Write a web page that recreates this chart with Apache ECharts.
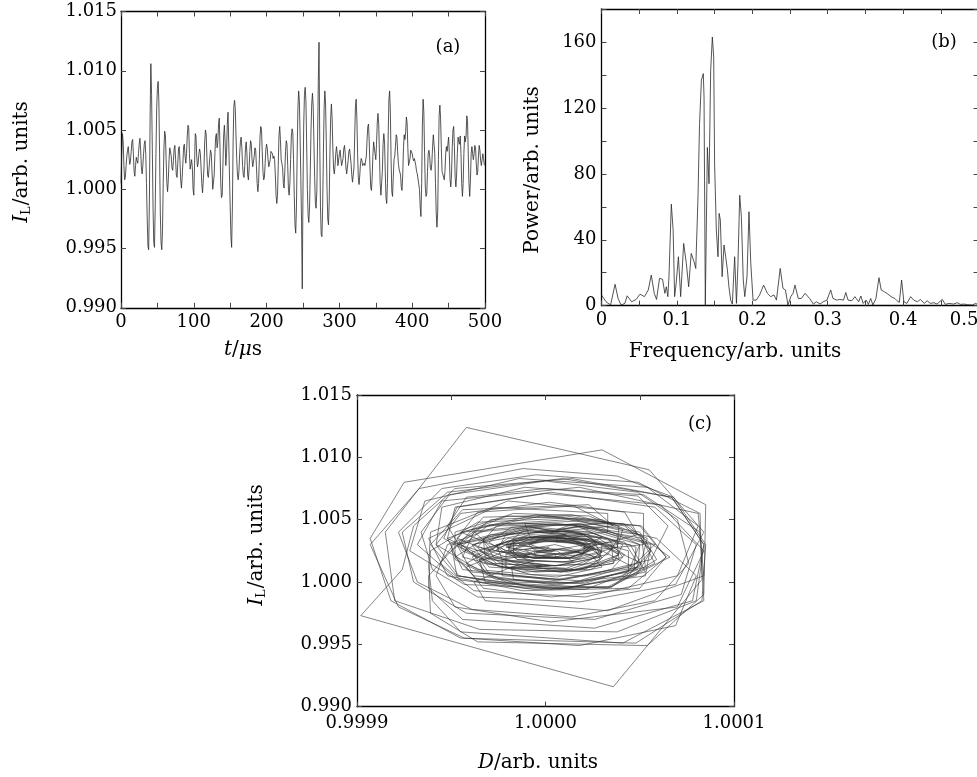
<!DOCTYPE html>
<html><head><meta charset="utf-8">
<script src="https://cdn.jsdelivr.net/npm/echarts@6/dist/echarts.min.js"></script>
<style>html,body{margin:0;padding:0;background:#fff}#c{width:977px;height:777px}</style>
</head><body><div id="c"></div>
<script>
// ---- panel (a) & (c): laser intensity I_L sampled every 1 us (t = 0..500) ----
const intensityIL = [
1.0005,1.0030,1.0047,1.0040,1.0020,1.0008,1.0010,1.0020,1.0028,1.0033,
1.0036,1.0028,1.0021,1.0024,1.0032,1.0040,1.0042,1.0030,1.0015,1.0011,
1.0020,1.0027,1.0024,1.0022,1.0030,1.0038,1.0043,1.0033,1.0019,1.0013,
1.0020,1.0030,1.0038,1.0041,1.0030,1.0005,0.9975,0.9952,0.9949,0.9990,
1.0062,1.0106,1.0080,1.0035,0.9985,0.9955,0.9951,0.9985,1.0030,1.0068,
1.0085,1.0091,1.0075,1.0030,0.9980,0.9955,0.9949,0.9965,1.0005,1.0035,
1.0049,1.0045,1.0025,1.0005,0.9998,1.0008,1.0025,1.0035,1.0036,1.0028,
1.0018,1.0016,1.0024,1.0034,1.0037,1.0025,1.0012,1.0010,1.0022,1.0034,
1.0036,1.0024,1.0008,1.0001,1.0010,1.0022,1.0036,1.0038,1.0028,1.0022,
1.0030,1.0045,1.0054,1.0052,1.0030,1.0017,1.0016,1.0025,1.0018,1.0000,
0.9995,1.0020,1.0047,1.0045,1.0028,1.0019,1.0022,1.0030,1.0034,1.0030,
1.0018,1.0005,0.9997,0.9996,1.0018,1.0040,1.0050,1.0046,1.0028,1.0012,
1.0010,1.0018,1.0027,1.0033,1.0030,1.0015,1.0000,0.9999,1.0012,1.0030,
1.0044,1.0047,1.0035,1.0040,1.0055,1.0060,1.0035,1.0005,0.9993,0.9995,
1.0020,1.0045,1.0054,1.0040,1.0020,1.0030,1.0055,1.0065,1.0040,1.0012,
0.9985,0.9960,0.9951,0.9985,1.0040,1.0070,1.0075,1.0068,1.0045,1.0025,
1.0012,1.0008,1.0015,1.0030,1.0040,1.0044,1.0035,1.0020,1.0012,1.0010,
1.0020,1.0035,1.0040,1.0030,1.0012,1.0008,1.0018,1.0032,1.0041,1.0038,
1.0025,1.0019,1.0020,1.0028,1.0035,1.0033,1.0020,1.0005,0.9998,1.0005,
1.0025,1.0045,1.0053,1.0050,1.0032,1.0015,1.0008,1.0010,1.0022,1.0034,
1.0038,1.0034,1.0025,1.0019,1.0019,1.0025,1.0032,1.0033,1.0030,1.0026,
1.0028,1.0025,1.0012,0.9995,0.9988,0.9995,1.0020,1.0045,1.0053,1.0042,
1.0025,1.0022,1.0018,1.0005,1.0001,1.0015,1.0032,1.0041,1.0038,1.0020,
1.0000,0.9995,1.0005,1.0025,1.0045,1.0051,1.0048,1.0025,0.9995,0.9970,
0.9963,0.9985,1.0030,1.0068,1.0083,1.0075,1.0045,1.0010,0.9973,0.9916,
1.0002,1.0055,1.0080,1.0086,1.0075,1.0040,1.0000,0.9978,0.9972,0.9985,
1.0015,1.0050,1.0072,1.0081,1.0070,1.0040,1.0010,0.9988,0.9984,0.9998,
1.0040,1.0090,1.0124,1.0040,0.9985,0.9962,0.9960,0.9985,1.0030,1.0068,
1.0083,1.0072,1.0040,1.0000,0.9975,0.9970,0.9990,1.0030,1.0060,1.0072,
1.0060,1.0035,1.0018,1.0013,1.0020,1.0030,1.0036,1.0030,1.0020,1.0019,
1.0030,1.0033,1.0026,1.0020,1.0019,1.0026,1.0034,1.0037,1.0030,1.0018,
1.0013,1.0014,1.0024,1.0032,1.0034,1.0028,1.0022,1.0012,1.0006,1.0005,
1.0018,1.0045,1.0069,1.0076,1.0060,1.0030,1.0010,1.0004,1.0012,1.0022,
1.0026,1.0024,1.0020,1.0019,1.0022,1.0020,1.0019,1.0028,1.0042,1.0053,
1.0055,1.0040,1.0018,1.0002,0.9999,1.0010,1.0028,1.0040,1.0041,1.0030,
1.0025,1.0038,1.0056,1.0064,1.0055,1.0030,1.0005,0.9995,0.9996,1.0015,
1.0038,1.0047,1.0040,1.0015,0.9993,0.9988,1.0005,1.0045,1.0076,1.0083,
1.0065,1.0025,0.9998,0.9994,1.0010,1.0025,1.0028,1.0036,1.0046,1.0044,
1.0032,1.0022,1.0017,1.0016,1.0012,1.0002,0.9999,1.0012,1.0035,1.0046,
1.0042,1.0048,1.0061,1.0056,1.0035,1.0020,1.0019,1.0026,1.0033,1.0034,
1.0030,1.0026,1.0024,1.0026,1.0025,1.0020,1.0015,1.0013,1.0014,1.0012,
1.0000,0.9985,0.9977,1.0005,1.0055,1.0076,1.0065,1.0030,1.0002,0.9994,
0.9996,1.0015,1.0030,1.0033,1.0028,1.0018,1.0016,1.0022,1.0036,1.0046,
1.0047,1.0030,1.0005,0.9980,0.9968,0.9980,1.0025,1.0062,1.0071,1.0060,
1.0035,1.0015,1.0013,1.0012,1.0008,1.0015,1.0030,1.0036,1.0032,1.0038,
1.0044,1.0030,1.0008,1.0002,1.0012,1.0035,1.0050,1.0053,1.0035,1.0010,
1.0002,1.0012,1.0030,1.0044,1.0040,1.0038,1.0045,1.0030,1.0005,0.9994,
1.0005,1.0030,1.0045,1.0040,1.0045,1.0062,1.0058,1.0030,1.0005,0.9994,
1.0008,1.0030,1.0036,1.0030,1.0025,1.0030,1.0037,1.0035,1.0022,1.0012,
1.0015,1.0028,1.0037,1.0033,1.0024,1.0020,1.0025,1.0030,1.0026,1.0021,
1.0020
];
// ---- panel (c): D at the same instants ----
const detectorD = [
1.000041,1.000058,1.000018,0.999962,0.999956,0.999988,1.000021,1.000030,1.000023,1.000015,
0.999995,0.999980,0.999997,1.000020,1.000027,1.000018,0.999988,0.999962,0.999974,1.000011,
1.000027,1.000009,0.999995,1.000012,1.000027,1.000023,0.999995,0.999967,0.999973,1.000005,
1.000029,1.000030,1.000020,0.999991,0.999953,0.999938,0.999939,0.999964,1.000054,1.000084,
1.000085,1.000030,0.999925,0.999907,0.999918,0.999955,1.000048,1.000083,1.000085,1.000068,
1.000038,0.999988,0.999933,0.999907,0.999922,0.999957,1.000018,1.000069,1.000080,1.000059,
1.000018,0.999967,0.999950,0.999962,1.000008,1.000044,1.000044,1.000020,0.999992,0.999976,
0.999985,1.000012,1.000030,1.000023,0.999989,0.999965,0.999980,1.000018,1.000039,1.000024,
0.999988,0.999961,0.999968,1.000006,1.000035,1.000042,1.000027,0.999991,0.999979,1.000006,
1.000038,1.000039,1.000014,0.999967,0.999954,0.999982,1.000015,1.000006,0.999965,0.999968,
1.000033,1.000066,1.000041,0.999974,0.999964,0.999994,1.000020,1.000021,1.000003,0.999979,
0.999965,0.999971,0.999989,1.000035,1.000059,1.000050,1.000012,0.999970,0.999955,0.999976,
1.000012,1.000029,1.000026,1.000008,0.999976,0.999958,0.999979,1.000021,1.000049,1.000050,
1.000029,0.999989,0.999992,1.000033,1.000033,0.999973,0.999938,0.999948,0.999988,1.000044,
1.000064,1.000051,0.999995,0.999955,0.999988,1.000052,1.000052,0.999980,0.999939,0.999938,
0.999940,0.999955,1.000041,1.000084,1.000082,1.000052,1.000000,0.999958,0.999948,0.999956,
0.999977,1.000008,1.000036,1.000041,1.000024,0.999995,0.999967,0.999968,0.999988,1.000015,
1.000041,1.000033,0.999995,0.999961,0.999970,1.000012,1.000039,1.000038,1.000012,0.999979,
0.999974,0.999995,1.000017,1.000026,1.000011,0.999980,0.999961,0.999970,1.000003,1.000044,
1.000056,1.000045,1.000011,0.999971,0.999954,0.999967,0.999995,1.000024,1.000039,1.000027,
1.000003,0.999983,0.999980,0.999994,1.000012,1.000023,1.000015,1.000000,0.999992,1.000000,
1.000002,0.999979,0.999958,0.999967,1.000003,1.000050,1.000064,1.000050,0.999998,0.999961,
0.999973,0.999992,0.999977,0.999977,1.000018,1.000049,1.000042,1.000012,0.999971,0.999952,
0.999965,1.000011,1.000048,1.000056,1.000042,1.000008,0.999964,0.999939,0.999938,0.999956,
1.000026,1.000078,1.000084,1.000067,1.000014,0.999952,0.999930,0.999924,0.999902,1.000036,
1.000083,1.000082,1.000049,0.999995,0.999945,0.999922,0.999932,0.999961,1.000014,1.000058,
1.000076,1.000070,1.000049,1.000000,0.999949,0.999934,0.999940,0.999964,1.000018,1.000069,
1.000084,1.000055,0.999958,0.999915,0.999920,0.999965,1.000038,1.000080,1.000084,1.000067,
1.000009,0.999948,0.999924,0.999930,0.999958,1.000026,1.000072,1.000080,1.000058,1.000003,
0.999952,0.999948,0.999970,1.000006,1.000029,1.000027,1.000003,0.999979,0.999986,1.000018,
1.000024,0.999997,0.999983,0.999992,1.000012,1.000026,1.000020,0.999997,0.999974,0.999977,
0.999997,1.000020,1.000030,1.000018,0.999997,0.999985,0.999979,0.999979,0.999992,1.000021,
1.000056,1.000065,1.000049,0.999989,0.999945,0.999942,0.999964,1.000006,1.000030,1.000024,
1.000006,0.999994,0.999995,1.000006,1.000005,0.999998,1.000015,1.000038,1.000041,1.000023,
0.999983,0.999952,0.999952,0.999974,1.000015,1.000047,1.000048,1.000023,0.999988,0.999979,
1.000015,1.000049,1.000042,1.000002,0.999955,0.999942,0.999954,0.999989,1.000033,1.000058,
1.000050,1.000006,0.999956,0.999944,0.999962,1.000021,1.000070,1.000081,1.000054,0.999986,
0.999936,0.999928,0.999957,1.000021,1.000049,1.000030,1.000020,1.000030,1.000015,0.999982,
0.999970,0.999980,0.999994,0.999995,0.999982,0.999983,1.000018,1.000053,1.000051,1.000014,
1.000006,1.000032,1.000015,0.999964,0.999953,0.999979,1.000012,1.000024,1.000015,0.999998,
0.999991,0.999994,1.000003,1.000005,0.999994,0.999988,0.999992,1.000002,1.000002,0.999982,
0.999962,0.999968,1.000033,1.000084,1.000081,1.000018,0.999945,0.999932,0.999953,0.999994,
1.000035,1.000051,1.000030,1.000000,0.999980,0.999985,1.000009,1.000033,1.000039,1.000020,
0.999979,0.999948,0.999942,0.999952,1.000003,1.000070,1.000084,1.000061,1.000000,0.999953,
0.999946,0.999970,0.999998,0.999995,1.000008,1.000036,1.000035,1.000006,1.000006,1.000021,
0.999991,0.999953,0.999961,1.000009,1.000050,1.000054,1.000030,0.999980,0.999948,0.999956,
1.000006,1.000045,1.000050,1.000018,0.999994,1.000011,0.999991,0.999950,0.999953,1.000003,
1.000053,1.000056,1.000018,1.000003,1.000036,1.000023,0.999956,0.999939,0.999953,1.000008,
1.000053,1.000045,1.000003,0.999986,1.000003,1.000021,1.000011,0.999980,0.999968,0.999992,
1.000027,1.000036,1.000011,0.999983,0.999983,1.000005,1.000018,1.000005,0.999989,0.999994,
1.000002
];
// ---- panel (b): power spectrum ----
const freqB = [
0.000,0.006,0.012,0.018,0.022,0.026,0.031,0.034,0.040,0.046,
0.051,0.057,0.062,0.066,0.070,0.073,0.077,0.081,0.084,0.086,
0.088,0.0895,0.0926,0.095,0.097,0.099,0.102,0.105,0.109,0.1125,
0.1156,0.119,0.1227,0.125,0.128,0.130,0.1325,0.135,0.136,0.1377,
0.1404,0.1426,0.1448,0.147,0.1488,0.150,0.1523,0.1545,0.156,0.1576,
0.160,0.1625,0.1647,0.167,0.169,0.1713,0.1735,0.1766,0.179,0.181,
0.1833,0.1855,0.188,0.190,0.193,0.1956,0.198,0.201,0.2053,0.2097,
0.215,0.220,0.2244,0.2288,0.232,0.237,0.2407,0.244,0.2473,0.251,
0.254,0.2566,0.261,0.265,0.270,0.276,0.281,0.285,0.2897,0.294,
0.299,0.304,0.307,0.312,0.316,0.321,0.324,0.327,0.332,0.336,
0.341,0.344,0.347,0.351,0.354,0.357,0.360,0.364,0.368,0.371,
0.375,0.380,0.384,0.389,0.392,0.395,0.398,0.401,0.405,0.410,
0.414,0.419,0.423,0.428,0.432,0.436,0.441,0.445,0.452,0.456,
0.461,0.467,0.472,0.476,0.481,0.485,0.492,0.496,0.498
];
const powerB = [
6.5,2.4,0.4,13,4.4,0.4,1.4,6,2.4,3.8,
7,5.5,9.5,18.6,7.5,3.8,16.6,16,7.5,11.5,
5.5,17.6,61.6,46,5.5,13.5,29.7,5.5,37.8,25.7,
11.5,31.7,26.7,22.6,66,110,136.8,140.8,126.7,0.4,
96,74,142.8,163,151,86,46,29.7,56,52,
17.6,36.8,29.7,21.6,11.5,3.4,1,29.7,1.4,25.7,
67,54,15.6,5.5,17.6,57,25.7,3.4,3.4,6.5,
12.5,7.5,5.5,6.5,3.4,22.6,10.5,9.5,0.4,5.5,
7.5,12.5,4.4,4.4,7.5,4.4,1,2.4,1,2.4,
3.4,9.5,4.4,3.4,3.8,3.4,8,3.4,3,5.5,
2.4,5.9,1.4,3.4,0.8,4.4,0.4,4.4,17,9.5,
8.5,7,5.5,4.4,3,2,15.6,2.4,1.4,5.5,
3.4,2.4,3.8,1.4,3,1.4,1.8,1,3.8,0.8,
1.4,1,1.8,0.8,1,0.6,0.4,1.4,1
];

const FONT = 'DejaVu Serif';
const chart = echarts.init(document.getElementById('c'), null, {renderer: 'canvas'});

const seriesA = intensityIL.map((v, i) => [i, v]);
const seriesB = freqB.map((f, i) => [f, powerB[i]]);
const seriesC = intensityIL.map((v, i) => [detectorD[i], v]);

function axis(o) {
  return Object.assign({
    type: 'value',
    scale: false,
    axisLine: {show: true, onZero: false, lineStyle: {color: '#000', width: 1.3}},
    axisTick: {show: true, inside: true, length: 5, lineStyle: {color: '#444', width: 1}},
    splitLine: {show: false},
    axisLabel: {show: false}
  }, o);
}
function lab(fmt, margin) {
  return {show: true, color: '#000', fontFamily: FONT, fontSize: 18, margin: margin, formatter: fmt, showMinLabel: true, showMaxLabel: true};
}
const fmtA_x = v => (v % 100 === 0 ? String(v) : '');
const fmtY3 = v => v.toFixed(3);
const fmtB_x = v => { const k = Math.round(v * 100); return k % 10 === 0 ? (k === 0 ? '0' : (k / 100).toFixed(1)) : ''; };
const fmtB_y = v => (Math.round(v) % 40 === 0 ? String(Math.round(v)) : '');
const fmtC_x = v => v.toFixed(4);

const grids = [
  {left: 121, top: 11.5, width: 364, height: 296.3},
  {left: 601.5, top: 9, width: 377, height: 296.7},
  {left: 357, top: 395, width: 377, height: 311.7}
].map(g => Object.assign({containLabel: false, outerBoundsMode: 'none'}, g));

const xAxes = [
  axis({gridIndex: 0, position: 'bottom', min: 0, max: 500, interval: 50, axisLabel: lab(fmtA_x, 6)}),
  axis({gridIndex: 0, position: 'top', min: 0, max: 500, interval: 50}),
  axis({gridIndex: 1, position: 'bottom', min: 0, max: 0.5, interval: 0.05, axisLabel: Object.assign(lab(fmtB_x, 6), {alignMaxLabel: 'right'})}),
  axis({gridIndex: 1, position: 'top', min: 0, max: 0.5, interval: 0.05}),
  axis({gridIndex: 2, position: 'bottom', min: 0.9999, max: 1.0001, interval: 0.0001, axisLabel: lab(fmtC_x, 8)}),
  axis({gridIndex: 2, position: 'top', min: 0.9999, max: 1.0001, interval: 0.00005})
];
const yAxes = [
  axis({gridIndex: 0, position: 'left', min: 0.99, max: 1.015, interval: 0.005, axisLabel: lab(fmtY3, 4)}),
  axis({gridIndex: 0, position: 'right', min: 0.99, max: 1.015, interval: 0.005}),
  axis({gridIndex: 1, position: 'left', min: 0, max: 180, interval: 20, axisLabel: lab(fmtB_y, 5)}),
  axis({gridIndex: 1, position: 'right', min: 0, max: 180, interval: 20}),
  axis({gridIndex: 2, position: 'left', min: 0.99, max: 1.015, interval: 0.005, axisLabel: lab(fmtY3, 5)}),
  axis({gridIndex: 2, position: 'right', min: 0.99, max: 1.015, interval: 0.005})
];

const lineStyle = {color: '#2a2a2a', width: 0.8};
function txt(x, y, text, rot, size, rich) {
  return {type: 'text', x: x, y: y, rotation: rot || 0, z: 100,
    style: {text: text, fill: '#000', font: (size || 20) + 'px "' + FONT + '"', align: 'center', verticalAlign: 'middle', rich: rich}};
}
const richIL = {
  i: {fontFamily: FONT, fontSize: 20, fontStyle: 'italic', fill: '#000'},
  s: {fontFamily: FONT, fontSize: 13, fill: '#000', padding: [10, 1, 0, 0]},
  n: {fontFamily: FONT, fontSize: 20, fill: '#000'}
};

chart.setOption({
  animation: false,
  backgroundColor: '#fff',
  grid: grids,
  xAxis: xAxes,
  yAxis: yAxes,
  series: [
    {type: 'line', xAxisIndex: 0, yAxisIndex: 0, data: seriesA, showSymbol: false, symbol: 'none', lineStyle: lineStyle, clip: true},
    {type: 'line', xAxisIndex: 2, yAxisIndex: 2, data: seriesB, showSymbol: false, symbol: 'none', lineStyle: lineStyle, clip: true},
    {type: 'line', xAxisIndex: 4, yAxisIndex: 4, data: seriesC, showSymbol: false, symbol: 'none', lineStyle: {color: '#333', width: 0.6}, clip: true}
  ],
  graphic: [
    txt(22, 162, '{i|I}{s|L}{n|/arb. units}', Math.PI / 2, 20, richIL),
    txt(533, 170, 'Power/arb. units', Math.PI / 2, 20),
    txt(257, 545, '{i|I}{s|L}{n|/arb. units}', Math.PI / 2, 20, richIL),
    txt(243, 350, '{i|t}{n|/}{i|μ}{n|s}', 0, 20, richIL),
    txt(735, 352, 'Frequency/arb. units', 0, 20),
    txt(538, 763, '{i|D}{n|/arb. units}', 0, 20, richIL),
    txt(448, 47, '(a)', 0, 18),
    txt(944, 42, '(b)', 0, 18),
    txt(700, 424, '(c)', 0, 18)
  ]
});
</script>
</body></html>
